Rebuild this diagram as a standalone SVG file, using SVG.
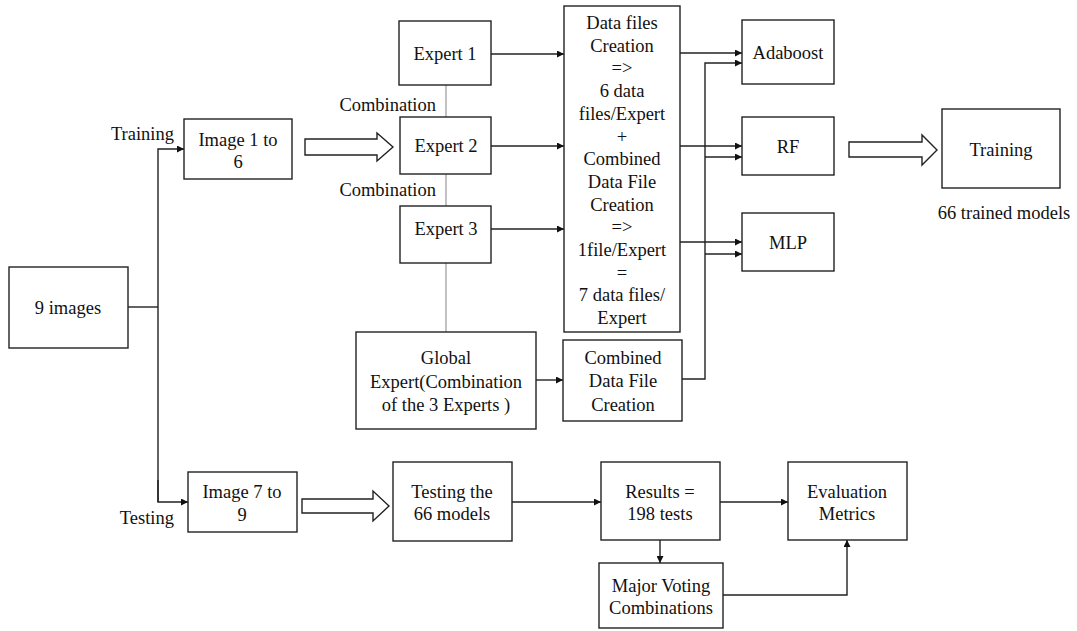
<svg xmlns="http://www.w3.org/2000/svg" width="1077" height="631" viewBox="0 0 1077 631">
<style>
.box{fill:#fff;stroke:#222;stroke-width:1.4}
text{font-family:'Liberation Serif','Tinos','Times New Roman','DejaVu Serif',serif;font-size:18.5px;fill:#111}
.c{text-anchor:middle}
.r{text-anchor:end}
.ln{fill:none;stroke:#222;stroke-width:1.4}
.ar{fill:none;stroke:#222;stroke-width:1.4;marker-end:url(#ah)}
.gr{fill:none;stroke:#999;stroke-width:1.2}
.hol{fill:#fff;stroke:#222;stroke-width:1.4}
</style>
<defs>
<marker id="ah" viewBox="0 0 10 10" refX="10" refY="5" markerWidth="8" markerHeight="7" markerUnits="userSpaceOnUse" orient="auto">
<path d="M0,0 L10,5 L0,10 z" fill="#111"/>
</marker>
</defs>
<rect width="1077" height="631" fill="#fff"/>
<g id="connectors">
<path class="ln" d="M128,307 H158"/>
<path class="ar" d="M158,502 V149 H184"/>
<path class="ar" d="M158,480 V502 H188"/>
<path class="gr" d="M446,85 V117 M446,174 V206 M446,263 V332"/>
<path class="ar" d="M491,54 H564"/>
<path class="ar" d="M491,146 H564"/>
<path class="ar" d="M491,229 H564"/>
<path class="ar" d="M680,53 H742"/>
<path class="ar" d="M680,146 H742"/>
<path class="ar" d="M680,242 H742"/>
<path class="ar" d="M682,379 H705 V63 H742"/>
<path class="ar" d="M705,157 H742"/>
<path class="ar" d="M705,254 H742"/>
<path class="ar" d="M536,380 H563"/>
<path class="ar" d="M512,502 H601"/>
<path class="ar" d="M720,502 H788"/>
<path class="ar" d="M660,540 V563"/>
<path class="ar" d="M723,595 H847 V540"/>
<path class="hol" d="M305,139 H377 V133 L393,147 L377,161 V155 H305 Z"/>
<path class="hol" d="M849,142 H922 V135 L937,150 L922,165 V157 H849 Z"/>
<path class="hol" d="M302,499 H373 V491 L389,506 L373,521 V513 H302 Z"/>
</g>
<g id="labels">
<text class="r" x="174" y="140">Training</text>
<text class="r" x="174" y="524">Testing</text>
<text class="r" x="436" y="111">Combination</text>
<text class="r" x="436" y="196">Combination</text>
<text class="c" x="1004" y="219">66 trained models</text>
</g>
<g id="n9images"><rect class="box" x="9" y="267" width="119" height="81"/><text class="c" x="68" y="314">9 images</text></g>
<g id="img16"><rect class="box" x="184" y="119" width="108" height="60"/><text class="c" x="238" y="146">Image 1 to</text><text class="c" x="238" y="168">6</text></g>
<g id="expert1"><rect class="box" x="399" y="21" width="92" height="64"/><text class="c" x="445" y="60">Expert 1</text></g>
<g id="expert2"><rect class="box" x="400" y="117" width="91" height="57"/><text class="c" x="446" y="152">Expert 2</text></g>
<g id="expert3"><rect class="box" x="400" y="206" width="91" height="57"/><text class="c" x="446" y="235">Expert 3</text></g>
<g id="datafiles"><rect class="box" x="564" y="6" width="116" height="326"/>
<text class="c" x="622" y="29">Data files</text>
<text class="c" x="622" y="51.7">Creation</text>
<text class="c" x="622" y="74.4">=&gt;</text>
<text class="c" x="622" y="97.1">6 data</text>
<text class="c" x="622" y="119.8">files/Expert</text>
<text class="c" x="622" y="142.5">+</text>
<text class="c" x="622" y="165.2">Combined</text>
<text class="c" x="622" y="187.9">Data File</text>
<text class="c" x="622" y="210.6">Creation</text>
<text class="c" x="622" y="233.3">=&gt;</text>
<text class="c" x="622" y="256">1file/Expert</text>
<text class="c" x="622" y="278.7">=</text>
<text class="c" x="622" y="301.4">7 data files/</text>
<text class="c" x="622" y="324.1">Expert</text>
</g>
<g id="adaboost"><rect class="box" x="742" y="20" width="92" height="64"/><text class="c" x="788" y="59">Adaboost</text></g>
<g id="rf"><rect class="box" x="742" y="117" width="92" height="58"/><text class="c" x="788" y="153">RF</text></g>
<g id="mlp"><rect class="box" x="742" y="213" width="92" height="58"/><text class="c" x="788" y="249">MLP</text></g>
<g id="training"><rect class="box" x="942" y="109" width="118" height="79"/><text class="c" x="1001" y="156">Training</text></g>
<g id="global"><rect class="box" x="356" y="332" width="180" height="97"/><text class="c" x="446" y="364">Global</text><text class="c" x="446" y="388">Expert(Combination</text><text class="c" x="446" y="411">of the 3 Experts )</text></g>
<g id="combined"><rect class="box" x="563" y="340" width="119" height="81"/><text class="c" x="623" y="364">Combined</text><text class="c" x="623" y="387">Data File</text><text class="c" x="623" y="411">Creation</text></g>
<g id="img79"><rect class="box" x="188" y="472" width="109" height="60"/><text class="c" x="242" y="498">Image 7 to</text><text class="c" x="242" y="521">9</text></g>
<g id="testing"><rect class="box" x="393" y="462" width="119" height="79"/><text class="c" x="452" y="498">Testing the</text><text class="c" x="452" y="520">66 models</text></g>
<g id="results"><rect class="box" x="601" y="462" width="119" height="78"/><text class="c" x="660" y="498">Results =</text><text class="c" x="660" y="520">198 tests</text></g>
<g id="evaluation"><rect class="box" x="788" y="462" width="119" height="78"/><text class="c" x="847" y="498">Evaluation</text><text class="c" x="847" y="520">Metrics</text></g>
<g id="majorvoting"><rect class="box" x="599" y="563" width="124" height="65"/><text class="c" x="661" y="592">Major Voting</text><text class="c" x="661" y="614">Combinations</text></g>
</svg>
